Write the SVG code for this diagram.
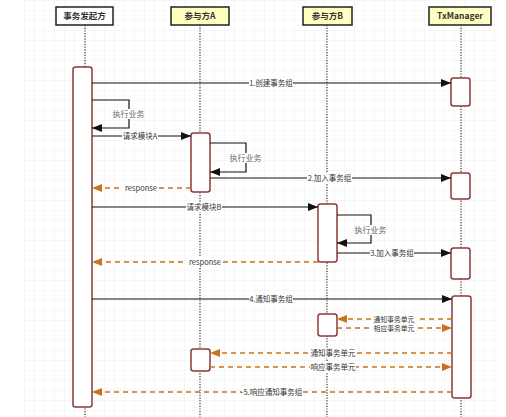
<svg xmlns="http://www.w3.org/2000/svg" width="506" height="417" viewBox="0 0 506 417">
<defs>
<pattern id="grid" x="24" y="0" width="10" height="10" patternUnits="userSpaceOnUse">
<path d="M0 0H10M0 0V10" fill="none" stroke="#ececec" stroke-width="0.8"/>
</pattern>
<marker id="ab" viewBox="0 0 10 8" refX="10" refY="4" markerWidth="10" markerHeight="8" markerUnits="userSpaceOnUse" orient="auto"><path d="M0 0L10 4L0 8Z" fill="#111"/></marker>
<marker id="ao" viewBox="0 0 10 8" refX="10" refY="4" markerWidth="10" markerHeight="8" markerUnits="userSpaceOnUse" orient="auto"><path d="M0 0L10 4L0 8Z" fill="#c8741a"/></marker>
</defs>
<style>
.hd{stroke:#222;stroke-width:1.5}
.hw{fill:#fff}
.hy{fill:#ffffc0}
.ht{font-family:"Noto Sans CJK SC","Liberation Sans",sans-serif;font-size:8.5px;font-weight:bold;fill:#333;text-anchor:middle}
.ll{stroke:#333;stroke-width:1.2;stroke-dasharray:1.2 1.5}
.act{fill:#fff;stroke:#8b3a3a;stroke-width:1.5}
.m{stroke:#111;stroke-width:1.2;fill:none;marker-end:url(#ab)}
.r{stroke:#c8741a;stroke-width:1.5;stroke-dasharray:5 4;fill:none}
.ra{marker-end:url(#ao)}
.t{font-family:"Noto Sans CJK SC","Liberation Sans",sans-serif;font-size:7.5px;fill:#333;text-anchor:middle}
.ts{font-family:"Noto Sans CJK SC","Liberation Sans",sans-serif;font-size:6.8px;fill:#333;text-anchor:middle}
.tg{font-family:"Noto Sans CJK SC","Liberation Sans",sans-serif;font-size:8px;fill:#666;text-anchor:middle}
.bg{fill:#fff}
</style>
<rect x="0" y="0" width="506" height="417" fill="#fff"/>
<rect x="24" y="0" width="476" height="417" fill="url(#grid)"/>

<g id="lifelines">
<line class="ll" x1="85" y1="25" x2="85" y2="417"/>
<line class="ll" x1="200" y1="25" x2="200" y2="417"/>
<line class="ll" x1="327" y1="25" x2="327" y2="417"/>
<line class="ll" x1="461" y1="25" x2="461" y2="417"/>
</g>

<g id="initiator">
<rect class="hd hw" x="56" y="7" width="57" height="18"/>
<text class="ht" x="84.5" y="19">事务发起方</text>
<rect class="act" x="73" y="67" width="19" height="340" rx="2.5"/>
</g>
<g id="participantA">
<rect class="hd hy" x="171" y="7" width="58" height="18"/>
<text class="ht" x="200" y="19">参与方A</text>
<rect class="act" x="191" y="133" width="19" height="59" rx="2.5"/>
<rect class="act" x="191" y="349" width="19" height="22" rx="2.5"/>
</g>
<g id="participantB">
<rect class="hd hy" x="303" y="7" width="49" height="18"/>
<text class="ht" x="327.5" y="19">参与方B</text>
<rect class="act" x="318" y="204" width="19" height="58" rx="2.5"/>
<rect class="act" x="318" y="314" width="19" height="22" rx="2.5"/>
</g>
<g id="txmanager">
<rect class="hd hy" x="429" y="7" width="62" height="18"/>
<text class="ht" x="460" y="19">TxManager</text>
<rect class="act" x="451" y="78" width="19" height="28" rx="2.5"/>
<rect class="act" x="451" y="173" width="19" height="26" rx="2.5"/>
<rect class="act" x="451" y="248" width="19" height="31" rx="2.5"/>
<rect class="act" x="452" y="296" width="19" height="102" rx="2.5"/>
</g>

<g id="connectors">
<line class="m" x1="92" y1="83" x2="451" y2="83"/>
<rect class="bg" x="249" y="78" width="44" height="10"/>
<text class="t" x="271" y="86">1.创建事务组</text>

<path class="m" d="M92 100H129V128H92"/>
<rect class="bg" x="113" y="109" width="31" height="10"/>
<text class="tg" x="128.5" y="117">执行业务</text>

<line class="m" x1="92" y1="136" x2="191" y2="136"/>
<rect class="bg" x="122" y="131" width="36" height="10"/>
<text class="t" x="140" y="139">请求模块A</text>

<path class="m" d="M210 143H246V172H210"/>
<rect class="bg" x="230" y="153" width="31" height="10"/>
<text class="tg" x="245.5" y="161">执行业务</text>

<line class="m" x1="210" y1="178" x2="451" y2="178"/>
<rect class="bg" x="307" y="173" width="45" height="10"/>
<text class="t" x="329.5" y="181">2.加入事务组</text>

<line class="r ra" x1="191" y1="188" x2="92" y2="188"/>
<rect class="bg" x="123" y="183" width="36" height="10"/>
<text class="t" x="141" y="191">response</text>

<line class="m" x1="92" y1="207" x2="318" y2="207"/>
<rect class="bg" x="186" y="202" width="36" height="10"/>
<text class="t" x="204" y="210">请求模块B</text>

<path class="m" d="M337 215H371V243H337"/>
<rect class="bg" x="355" y="225" width="31" height="10"/>
<text class="tg" x="370.5" y="233">执行业务</text>

<line class="m" x1="337" y1="253" x2="451" y2="253"/>
<rect class="bg" x="370" y="248" width="44" height="10"/>
<text class="t" x="392" y="256">3.加入事务组</text>

<line class="r ra" x1="318" y1="262" x2="92" y2="262"/>
<rect class="bg" x="187" y="257" width="36" height="10"/>
<text class="t" x="205" y="265">response</text>

<line class="m" x1="92" y1="299" x2="452" y2="299"/>
<rect class="bg" x="249" y="294" width="44" height="10"/>
<text class="t" x="271" y="302">4.通知事务组</text>

<line class="r ra" x1="452" y1="319" x2="337" y2="319"/>
<rect class="bg" x="372" y="315" width="44" height="8"/>
<text class="ts" x="394" y="321.5">通知事务单元</text>

<line class="r ra" x1="337" y1="328" x2="452" y2="328"/>
<rect class="bg" x="372" y="324" width="44" height="8"/>
<text class="ts" x="394" y="330.5">相应事务单元</text>

<line class="r ra" x1="452" y1="353" x2="210" y2="353"/>
<rect class="bg" x="310" y="348" width="46" height="10"/>
<text class="t" x="333" y="356">通知事务单元</text>

<line class="r ra" x1="210" y1="367" x2="452" y2="367"/>
<rect class="bg" x="310" y="362" width="46" height="10"/>
<text class="t" x="333" y="370">响应事务单元</text>

<line class="r ra" x1="452" y1="392" x2="92" y2="392"/>
<rect class="bg" x="242" y="387" width="59" height="10"/>
<text class="t" x="271.5" y="395">-5.响应通知事务组</text>
</g>
</svg>
